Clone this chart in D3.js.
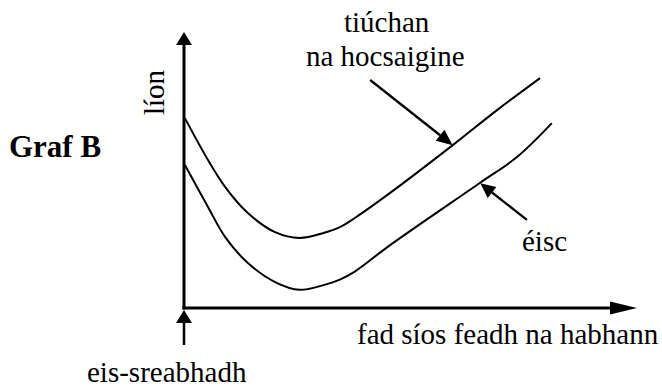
<!DOCTYPE html>
<html>
<head>
<meta charset="utf-8">
<script src="https://cdn.jsdelivr.net/npm/d3@7"></script>
</head>
<body style="margin:0">
<svg id="chart" width="662" height="387"></svg>
<script>
// distance downstream (0 = outflow) and relative amounts
const distance = [0.2, 5.3, 9.1, 14.1, 20.1, 25.5, 30.8, 34.4, 37.7, 45.5, 59.4, 65.3, 69.1, 73.5, 78.6, 81.2];
const oxygen = [68.8, 53.6, 43.8, 34.4, 27.5, 25.4, 27.2, 29.3, 32.6, 41.7, 59.1, null, 71.7, null, 83.3, null];
const fish = [51.8, 36.6, 25.7, 16.3, 9.4, 6.6, 8.3, 10.3, 13.2, 22.8, null, 45.3, null, 54.7, null, 67.0];

const seriesNames = ["tiúchan", "na hocsaigine", "éisc"];
const axisLabels = ["líon", "fad síos feadh na habhann", "eis-sreabhadh"];
const title = "Graf B";

const margin = {left: 184, right: 25, top: 32, bottom: 79};
const width = 662, height = 387;
const svg = d3.select("#chart");

const x = d3.scaleLinear().domain([0, 100]).range([margin.left, width - margin.right]);
const y = d3.scaleLinear().domain([0, 100]).range([height - margin.bottom, margin.top]);

function arrowHead(tip, from, len, half) {
    const dx = tip[0] - from[0], dy = tip[1] - from[1];
    const d = Math.hypot(dx, dy);
    const ux = dx / d, uy = dy / d;
    const bx = tip[0] - ux * len, by = tip[1] - uy * len;
    return [tip, [bx - uy * half, by + ux * half], [bx + uy * half, by - ux * half]];
}

function drawArrow(from, tip, len, half, stroke) {
    const head = arrowHead(tip, from, len, half);
    const base = [(head[1][0] + head[2][0]) / 2, (head[1][1] + head[2][1]) / 2];
    svg.append("line")
        .attr("x1", from[0]).attr("y1", from[1])
        .attr("x2", base[0]).attr("y2", base[1])
        .attr("stroke", "#000").attr("stroke-width", stroke);
    svg.append("path")
        .attr("d", "M" + head.join("L") + "Z")
        .attr("fill", "#000");
}

function label(xp, yp, txt, size, bold) {
    const t = svg.append("text")
        .attr("x", xp).attr("y", yp)
        .attr("font-size", size)
        .attr("font-family", "Liberation Serif")
        .style("font-family", "Liberation Serif")
        .text(txt);
    if (bold) t.attr("font-weight", "bold");
    return t;
}

// axes
const x0 = x(0), y0 = y(0);
drawArrow([x0, y0 + 1.5], [x0, y(100)], 13, 8, 3);
drawArrow([x0 - 1.5, y0], [x(100), y0], 27, 6.5, 3);
// outflow marker
drawArrow([x0, y0 + 37], [x0, y0 + 2], 13, 8, 2.5);

// curves
const line = d3.line()
    .x(d => x(d[0]))
    .y(d => y(d[1]))
    .curve(d3.curveCatmullRom.alpha(0.5));

[oxygen, fish].forEach(series => {
    const pts = distance.map((d, i) => [d, series[i]]).filter(p => p[1] !== null);
    svg.append("path")
        .attr("d", line(pts))
        .attr("fill", "none")
        .attr("stroke", "#000")
        .attr("stroke-width", 2);
});

// pointer arrows
drawArrow([x(41.1), y(82.6)], [x(59.3), y(59.0)], 16, 7, 2.3);
drawArrow([x(75.7), y(31.9)], [x(65.4), y(45.2)], 15, 7, 2.3);

// text
label(344, 32, seriesNames[0], 29);
label(306, 66, seriesNames[1], 29);
label(522, 251, seriesNames[2], 29);

label(0, 0, axisLabels[0], 29)
    .attr("transform", "translate(164,115) rotate(-90)");
label(357, 344, axisLabels[1], 29);
label(87, 382, axisLabels[2], 29);

label(9, 157, title, 31, true);
</script>
</body>
</html>
